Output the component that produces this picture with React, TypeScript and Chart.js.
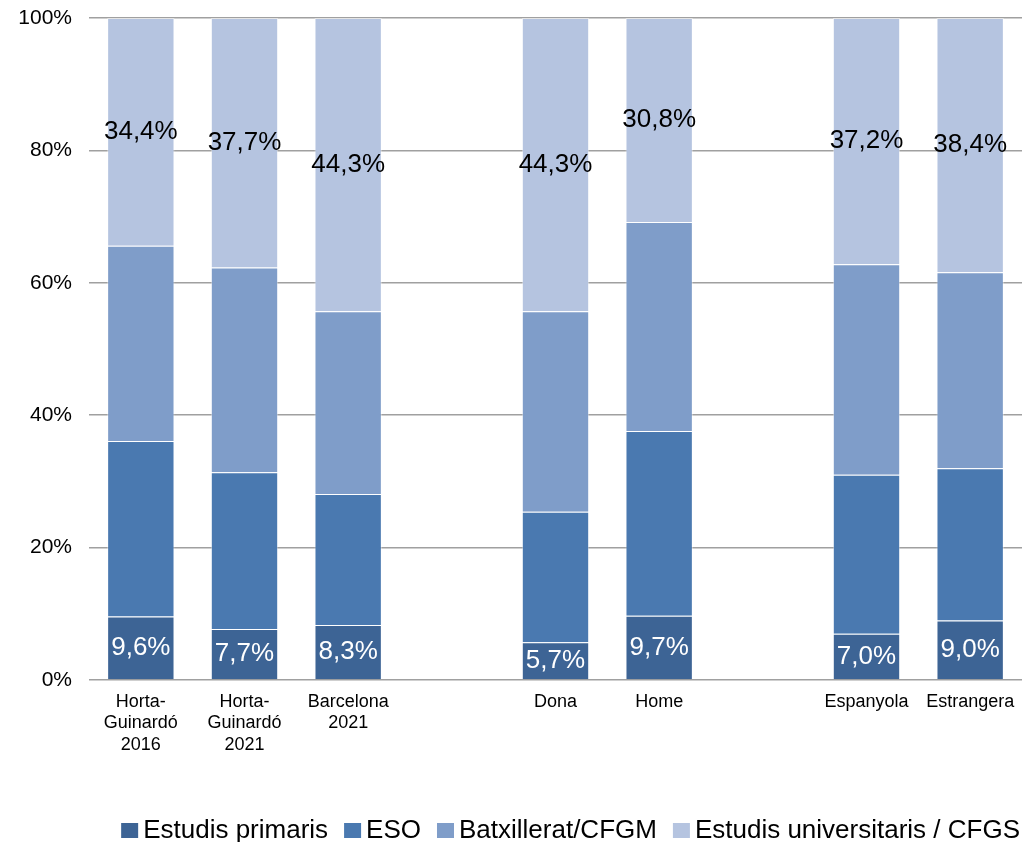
import React, { useEffect, useRef } from "react";
import { Chart, registerables } from "chart.js";

Chart.register(...registerables);

const categories: (string | string[])[] = [
  ["Horta-", "Guinardó", "2016"],
  ["Horta-", "Guinardó", "2021"],
  ["Barcelona", "2021"],
  "",
  "Dona",
  "Home",
  "",
  "Espanyola",
  "Estrangera",
];

const primaris = [9.6, 7.7, 8.3, null, 5.7, 9.7, null, 7.0, 9.0];
const eso = [26.5, 23.7, 19.8, null, 19.7, 27.9, null, 24.0, 23.0];
const batx = [29.5, 30.9, 27.6, null, 30.3, 31.6, null, 31.8, 29.6];
const univ = [34.4, 37.7, 44.3, null, 44.3, 30.8, null, 37.2, 38.4];

const seriesNames = ["Estudis primaris", "ESO", "Batxillerat/CFGM", "Estudis universitaris / CFGS"];
const seriesColors = ["#3d6495", "#4a79b0", "#7f9dc9", "#b5c4e0"];
const yTicks = [0, 20, 40, 60, 80, 100];

const FONT = "'Liberation Sans', Arial, sans-serif";

const fmt = (v: number) => v.toFixed(1).replace(".", ",") + "%";

const labelPlugin = {
  id: "segLabels",
  afterDatasetsDraw(chart: any) {
    const ctx = chart.ctx;
    ctx.save();
    ctx.font = `26px ${FONT}`;
    ctx.textAlign = "center";
    ctx.textBaseline = "middle";
    [0, 3].forEach((di) => {
      const meta = chart.getDatasetMeta(di);
      const data = chart.data.datasets[di].data;
      meta.data.forEach((el: any, i: number) => {
        const v = data[i];
        if (v == null) return;
        ctx.fillStyle = di === 0 ? "#ffffff" : "#000000";
        ctx.fillText(fmt(v), el.x, (el.y + el.base) / 2);
      });
    });
    ctx.restore();
  },
};

const legendPlugin = {
  id: "customLegend",
  afterDraw(chart: any) {
    const ctx = chart.ctx;
    ctx.save();
    ctx.font = `26px ${FONT}`;
    ctx.textBaseline = "alphabetic";
    ctx.textAlign = "left";
    const boxW = 17;
    const boxH = 15;
    const gapBoxText = 5;
    const gapItems = 16;
    const baseline = 838;
    const widths = seriesNames.map((n) => ctx.measureText(n).width);
    let total = 0;
    widths.forEach((w, i) => {
      total += boxW + gapBoxText + w + (i < widths.length - 1 ? gapItems : 0);
    });
    let x = 1020 - total;
    seriesNames.forEach((n, i) => {
      ctx.fillStyle = seriesColors[i];
      ctx.fillRect(x, baseline - boxH, boxW, boxH);
      x += boxW + gapBoxText;
      ctx.fillStyle = "#000";
      ctx.fillText(n, x, baseline);
      x += widths[i] + gapItems;
    });
    ctx.restore();
  },
};

export default function App() {
  const ref = useRef<HTMLCanvasElement>(null);
  useEffect(() => {
    if (!ref.current) return;
    const sets = [primaris, eso, batx, univ];
    const chart = new Chart(ref.current, {
      type: "bar",
      data: {
        labels: categories,
        datasets: sets.map((d, i) => ({
          label: seriesNames[i],
          data: d,
          backgroundColor: seriesColors[i],
          borderColor: "rgba(255,255,255,0.45)",
          borderWidth: 1,
          barPercentage: 0.65,
          categoryPercentage: 1,
        })),
      },
      options: {
        animation: false,
        responsive: false,
        maintainAspectRatio: false,
        layout: { padding: { top: 18, right: 7, left: 0, bottom: 0 } },
        plugins: {
          tooltip: { enabled: false },
          legend: { display: false },
        },
        scales: {
          x: {
            stacked: true,
            grid: { display: false, drawTicks: false },
            border: { display: false },
            ticks: {
              font: { size: 18, family: FONT, lineHeight: 1.2 },
              color: "#000",
              maxRotation: 0,
              autoSkip: false,
              padding: 11,
            },
            afterFit: (s: any) => {
              s.height = 162;
              s.paddingLeft = 0;
              s.paddingRight = 0;
            },
          },
          y: {
            stacked: true,
            min: 0,
            max: 100,
            afterBuildTicks: (s: any) => {
              s.ticks = yTicks.map((v) => ({ value: v }));
            },
            grid: { color: "#a0a0a0", lineWidth: 1.5, drawTicks: false },
            border: { display: false },
            ticks: {
              font: { size: 21, family: FONT },
              color: "#000",
              padding: 17,
              callback: (v: any) => v + "%",
            },
            afterFit: (s: any) => {
              s.width = 89;
              s.paddingTop = 0;
              s.paddingBottom = 0;
            },
          },
        },
      },
      plugins: [labelPlugin, legendPlugin],
    });
    return () => chart.destroy();
  }, []);
  return (
    <div style={{ position: "fixed", left: 0, top: 0, width: 1029, height: 842, background: "#fff" }}>
      <canvas ref={ref} width={1029} height={842} />
    </div>
  );
}
